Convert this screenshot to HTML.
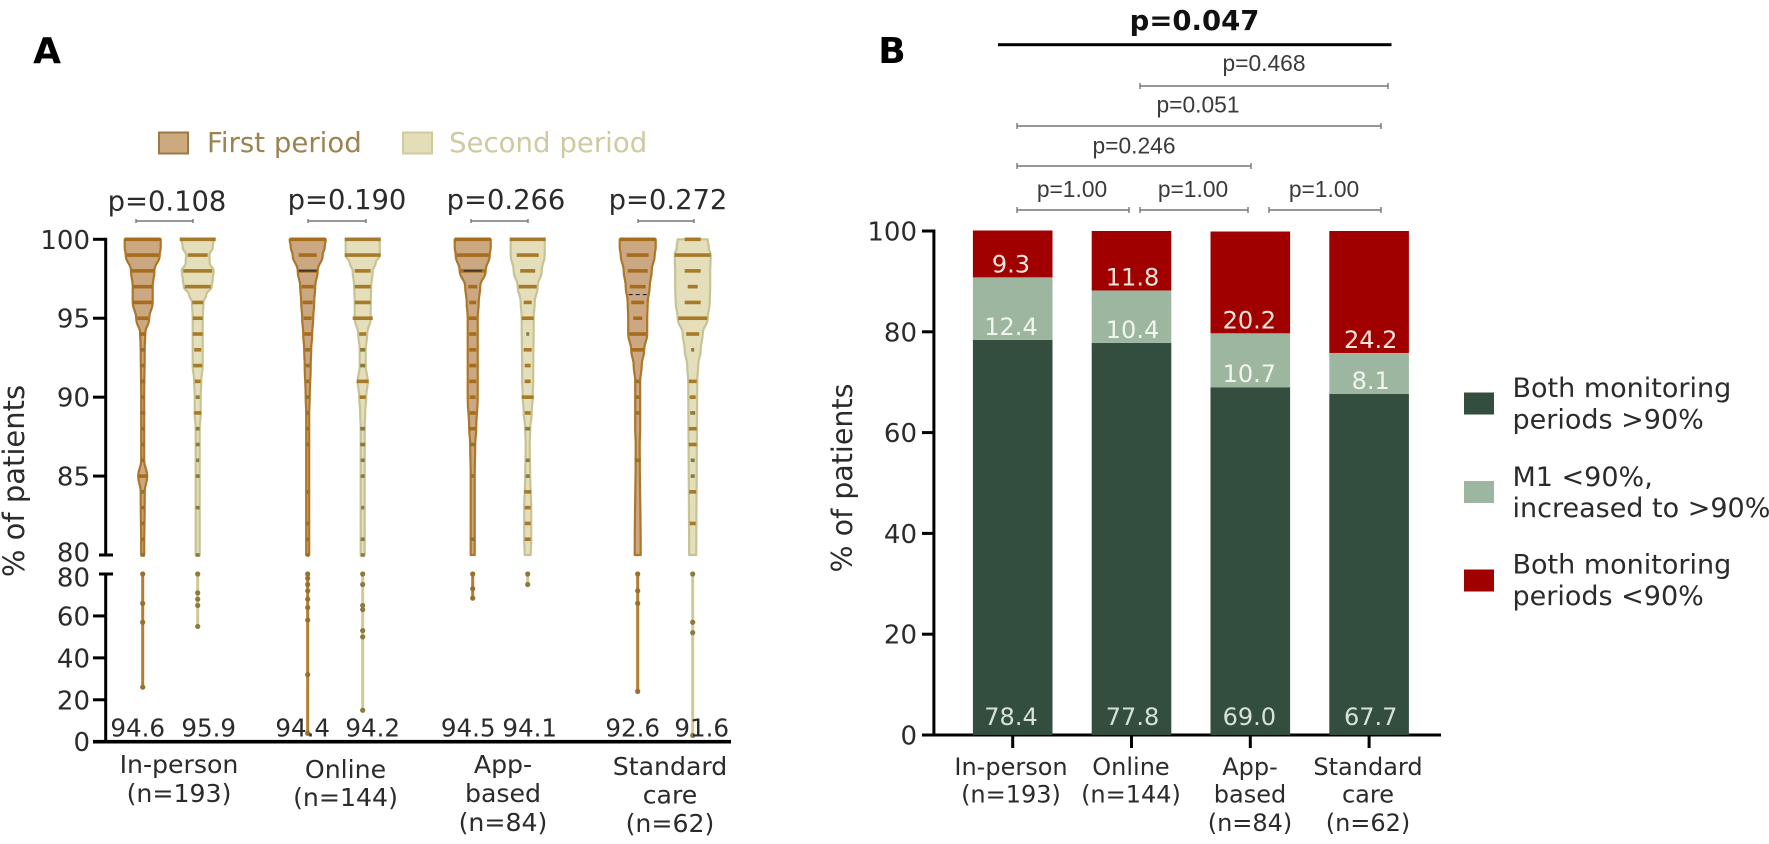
<!DOCTYPE html>
<html lang="en">
<head>
<meta charset="utf-8">
<title>Patient monitoring adherence</title>
<style>
html,body{margin:0;padding:0;background:#fff;width:1769px;height:844px;overflow:hidden}
svg{display:block;filter:blur(0.35px)}
text{font-family:"DejaVu Sans","Liberation Sans",sans-serif;fill:#2b2b2b}
.arial{font-family:"Liberation Sans",sans-serif;fill:#3a3a3a;font-size:22.8px;text-anchor:middle}
.cat-a{font-size:25.2px;text-anchor:middle}
.cat-b{font-size:24px;text-anchor:middle}
.pa{font-size:27.4px;text-anchor:middle}
.leg{font-size:27px}
.brk{stroke:#777;stroke-width:1.4;fill:none}
</style>
</head>
<body>
<svg id="figure" xmlns="http://www.w3.org/2000/svg" width="1769" height="844" viewBox="0 0 1769 844">
<rect width="1769" height="844" fill="#fff"/>

<text x="47" y="63" text-anchor="middle" style="font-size:36px;font-weight:bold;fill:#000">A</text>
<text x="892" y="63" text-anchor="middle" style="font-size:36px;font-weight:bold;fill:#000">B</text>

<g>
<rect x="159" y="132.5" width="29" height="21" fill="#cda97f" stroke="#9a7a45" stroke-width="2"/>
<text x="207" y="152" style="font-size:27.6px;fill:#9c8350">First period</text>
<rect x="403" y="132.5" width="29" height="21" fill="#e3deb8" stroke="#cfcaa0" stroke-width="2"/>
<text x="449" y="152" style="font-size:27.6px;fill:#cfcaa0">Second period</text>
</g>

<g>
<text class="pa" x="167" y="210.5">p=0.108</text>
<text class="pa" x="347" y="209">p=0.190</text>
<text class="pa" x="506" y="209">p=0.266</text>
<text class="pa" x="668" y="209">p=0.272</text>
<path class="brk" d="M136 221H193M136 219v4M193 219v4"/>
<path class="brk" d="M308 221H366M308 219v4M366 219v4"/>
<path class="brk" d="M471 221H528M471 219v4M528 219v4"/>
<path class="brk" d="M638 221H694M638 219v4M694 219v4"/>
</g>

<text transform="translate(24,481) rotate(-90)" text-anchor="middle" style="font-size:29px">% of patients</text>
<text transform="translate(852,478) rotate(-90)" text-anchor="middle" style="font-size:28.5px">% of patients</text>

<g id="violin-axes"></g>
<g id="violins"></g>
<g id="violin-means"></g>

<g>
<text class="cat-a" x="179" y="773">In-person</text>
<text class="cat-a" x="179" y="802">(n=193)</text>
<text class="cat-a" x="345.5" y="778">Online</text>
<text class="cat-a" x="345.5" y="806">(n=144)</text>
<text class="cat-a" x="503" y="773">App-</text>
<text class="cat-a" x="503" y="802">based</text>
<text class="cat-a" x="503" y="831">(n=84)</text>
<text class="cat-a" x="670" y="775">Standard</text>
<text class="cat-a" x="670" y="803.5">care</text>
<text class="cat-a" x="670" y="832">(n=62)</text>
</g>

<g id="stack-axes"></g>
<g id="stacks"></g>

<g>
<text class="cat-b" x="1011" y="775">In-person</text>
<text class="cat-b" x="1011" y="802.5">(n=193)</text>
<text class="cat-b" x="1131" y="775">Online</text>
<text class="cat-b" x="1131" y="802.5">(n=144)</text>
<text class="cat-b" x="1250" y="775">App-</text>
<text class="cat-b" x="1250" y="802.5">based</text>
<text class="cat-b" x="1250" y="831">(n=84)</text>
<text class="cat-b" x="1368" y="775">Standard</text>
<text class="cat-b" x="1368" y="802.5">care</text>
<text class="cat-b" x="1368" y="831">(n=62)</text>
</g>

<g>
<text x="1194.5" y="30" text-anchor="middle" style="font-size:27.5px;font-weight:bold;fill:#111">p=0.047</text>
<rect x="998" y="43.2" width="393.5" height="3" fill="#000"/>
<text class="arial" x="1264" y="71">p=0.468</text>
<path class="brk" d="M1140 86H1388M1140 83v6M1388 83v6"/>
<text class="arial" x="1198" y="112.5">p=0.051</text>
<path class="brk" d="M1017 126H1381M1017 123v6M1381 123v6"/>
<text class="arial" x="1134" y="153.5">p=0.246</text>
<path class="brk" d="M1017 166H1251M1017 163v6M1251 163v6"/>
<text class="arial" x="1072" y="197">p=1.00</text>
<path class="brk" d="M1017 210H1129M1017 207v6M1129 207v6"/>
<text class="arial" x="1193" y="197">p=1.00</text>
<path class="brk" d="M1140 210H1248M1140 207v6M1248 207v6"/>
<text class="arial" x="1324" y="197">p=1.00</text>
<path class="brk" d="M1269 210H1381M1269 207v6M1381 207v6"/>
</g>

<g>
<rect x="1464" y="392.5" width="30" height="22" fill="#334d3e"/>
<text class="leg" x="1512.5" y="397">Both monitoring</text>
<text class="leg" x="1512.5" y="428.5">periods &gt;90%</text>
<rect x="1464" y="481" width="30" height="22" fill="#9db69f"/>
<text class="leg" x="1512.5" y="486">M1 &lt;90%,</text>
<text class="leg" x="1512.5" y="517">increased to &gt;90%</text>
<rect x="1464" y="569.5" width="30" height="22" fill="#a10000"/>
<text class="leg" x="1512.5" y="573.5">Both monitoring</text>
<text class="leg" x="1512.5" y="605">periods &lt;90%</text>
</g>
</svg>

<script>
// ---------- Panel A data ----------
const violinNames = ['in-person-first','in-person-second','online-first','online-second','app-first','app-second','standard-first','standard-second'];
const meanLabels = ['94.6','95.9','94.4','94.2','94.5','94.1','92.6','91.6'];
const upperTicks = [100,95,90,85];
const lowerTicks = [60,40,20,0];

// violin outline: adherence value and density
const outlineValues = [
  [100,99.5,99,98,97,96,95,94,93,90,86,85,84,80],
  [100,99.5,99,98.5,98,97.5,97,96.5,96,95,94,93,92,91,90,89,88,85,84,80],
  [100,99.5,99,98,97,96,95,94,93,92,90,89,88,80],
  [100,99.5,99,98.5,98,97,96,95,94,93,92,91,90,89,88,80],
  [100,99.5,99,98,97,96,95,90,88,87,85,80],
  [100,99,98,97,96,95,91,90,89,88,87,85,83,81,80],
  [100,99.5,99,98,97,96,95,94,93,92,91,88,87,80],
  [100,99.5,99,98,97,96,95,94,93,92,91,80]
];
const outlineDensity = [
  [18,18,17,11.7,10,10,6.5,2.5,2,1.5,1.5,4.5,2,1.5],
  [16,15,11.7,12,16,15,14,8.7,5.7,5,5,5,5,3.5,3,3,2,2,2,2],
  [18,17,15,10,7.5,6.5,5.5,4.5,3.5,3,2,1.5,1.5,1.5],
  [17,17,17,13,10,8.5,8,8,4.5,3,3,5,3.5,2.5,2,2],
  [18,18,17,13,7.5,6,5,5,3.5,2.5,2,2],
  [17,17,14,10,7,6,5.5,5,4,2.5,2,2.5,3.5,3.5,3],
  [18,18,17,14,12,10,9.5,9.5,6.5,4,2.5,2.5,2,3],
  [15,16,18,17.5,17.5,17,15,10,8,5.5,4.5,3.5]
];

// stacked patient counts at integer values
const barValues = [
  [100,99,98,97,96,95,94,93,92,91,90,89,88,87,86,85,84,83,82,81,80],
  [100,99,98,97,96,95,94,93,92,91,90,89,88,87,86,85,83,80],
  [100,99,98,97,96,95,94,93,92,91,90,89,88,87,84,82,81,80],
  [100,99,98,97,96,95,94,93,92,91,90,88,87,86,85,83,81,80],
  [100,99,98,97,96,95,94,93,92,91,90,89,88,87,85,81],
  [100,99,98,97,96,95,94,93,92,91,90,89,88,86,85,84,83,82,81],
  [100,99,98,97,96,95,94,93,91,90,89,86],
  [100,99,98,97,96,95,94,93,91,90,89,88,87,86,85,84,82]
];
const barCounts = [
  [18,16,11.5,9.5,9.5,5.5,3.5,2.5,2,2.5,1.5,2.5,1.5,1.5,1.5,4.5,1.5,1.5,1.5,1.5,2],
  [18,10,14.5,13,5.5,5,5,3.5,4.5,3,2,3.5,2,2,1.5,2,2,2],
  [18,9,9,6,5,4,3.5,2.5,2,1.5,2,1.5,1.5,1.5,1.5,1.5,1.5,1.5],
  [18,18,8,8,8,10,3.5,2.5,2.5,6,3,2.5,2.5,2,2,1.5,2,2],
  [18,16,12,4.5,3.5,4,3.5,3.5,3.5,3.5,3,3,3,2.5,1.5,2.5],
  [18,11,7.5,9,4,6,1.5,4,3,3,6,3,2.5,2,2,3.5,3,3,3],
  [18,11,10,8,6.5,4.5,8.5,6,2,2,2,3],
  [8,18,8,5,8,14.5,6.5,1.5,4,3,2.5,4,4,2,2,3.5,3]
];

// lowest observation and scattered points below the axis break
const minimumValues = [26,55,4,15,68,75,24,3];
const lowPoints = [
  [80,66,57,26],
  [80,71,68,65,55],
  [80,78,75,72,68,64,58,32,4],
  [80,75,65,63,53,50,15],
  [80,73,68.5],
  [80,75],
  [80,72,66,24],
  [80,57,52,3]
];
const medianValues = [null,null,98,null,98,null,96.5,null];

// ---------- Panel B data ----------
const stackCategories = ['in-person','online','app-based','standard-care'];
const bothAbove = [78.4,77.8,69.0,67.7];
const increased = [12.4,10.4,10.7,8.1];
const bothBelow = [9.3,11.8,20.2,24.2];
const stackTicks = [100,80,60,40,20,0];

// ---------- Scales ----------
const NS = 'http://www.w3.org/2000/svg';
function make(tag, attrs, parent){
  const el = document.createElementNS(NS, tag);
  for (const k in attrs) el.setAttribute(k, attrs[k]);
  parent.appendChild(el);
  return el;
}
const yUpper = v => 239.3 + (100 - v) * 15.785;
const yLower = v => 741.7 - v * 2.096;
const yStack = v => 735 - v * 5.04;
const xViolin = i => 142.7 + Math.floor(i / 2) * 165 + (i % 2) * 55;
const xStack = i => 1012.7 + i * 118.8;
const meanNudge = [-5,11,-5,10,-4.5,2,-5,9];
const stackNudge = [-1.7,1,-1,1.6];

// ---------- Panel A axes ----------
const axA = document.getElementById('violin-axes');
const axisAUpper = make('path', {d:`M105.7 ${yUpper(100)-1.5}V${yUpper(80)}M99 ${yUpper(80)}H113`, stroke:'#000','stroke-width':3,fill:'none'}, axA);


const axisALower = make('path', {d:`M99 ${yLower(80)}H113M105.7 ${yLower(80)}V${yLower(0)}`, stroke:'#000','stroke-width':3,fill:'none'}, axA);


const axisAX = make('rect', {x:93,y:yLower(0)-1.8,width:638,height:3.6,fill:'#000'}, axA);



function tickA(v, y){
  const t = make('rect', {x:93,y:y-1.5,width:12,height:3,fill:'#000'}, axA);
  
  
}
function tickLabelA(v, y){
  const l = make('text', {x:90,y:y+9.5,'text-anchor':'end',style:'font-size:26px'}, axA);
  l.textContent = v;
  
  
}
upperTicks.forEach(v => { tickA(v, yUpper(v)); tickLabelA(v, yUpper(v)); });
lowerTicks.forEach(v => { if (v) tickA(v, yLower(v)); tickLabelA(v, yLower(v)); });
tickLabelA(80, yUpper(80) - 3);
tickLabelA(80, yLower(80) + 3);

// Smooth edge between successive outline points, vertical tangents at each point
function edge(points){
  let d = '';
  for (let k = 1; k < points.length; k++) {
    const p = points[k - 1], q = points[k];
    const my = (p[1] + q[1]) / 2;
    d += `C${p[0]} ${my} ${q[0]} ${my} ${q[0]} ${q[1]}`;
  }
  return d;
}

// ---------- Violins ----------
const vRoot = document.getElementById('violins');
violinNames.forEach((name, i) => {
  const first = i % 2 === 0;
  const cx = xViolin(i);
  const fill = first ? '#cba881' : '#e4dfba';
  const edgeCol = first ? '#ad7628' : '#c6c494';
  const barCol = first ? '#a66d1c' : '#a67a28';
  const dotCol = first ? '#96702c' : '#8b7a3c';
  const g = make('g', {}, vRoot);
  
  

  const vals = outlineValues[i], dens = outlineDensity[i];
  const right = vals.map((v, k) => [cx + dens[k], yUpper(v)]);
  const left = vals.map((v, k) => [cx - dens[k], yUpper(v)]).reverse();
  const outline = `M${right[0][0]} ${right[0][1]}` + edge(right) + `L${left[0][0]} ${left[0][1]}` + edge(left) + 'Z';
  const body = make('path', {d:outline,fill:fill,stroke:edgeCol,'stroke-width':2.2,'stroke-linejoin':'round'}, g);
  
  

  barValues[i].forEach((v, k) => {
    const w = barCounts[i][k];
    const bar = make('rect', {x:cx - w,y:yUpper(v) - 1.8,width:2 * w,height:3.6,fill:w < 3 ? dotCol : barCol}, g);
    
    
  });

  const stem = make('line', {x1:cx,x2:cx,y1:yLower(80),y2:yLower(minimumValues[i]),stroke:first ? '#b67c30' : '#cfca96','stroke-width':3}, g);
  
  

  lowPoints[i].forEach(v => {
    const dot = make('circle', {cx:cx,cy:yLower(v),r:2.6,fill:dotCol}, g);
    
    
  });

  if (medianValues[i] !== null) {
    const med = make('line', {x1:cx - 9,x2:cx + 9,y1:yUpper(medianValues[i]),y2:yUpper(medianValues[i]),stroke:'#222','stroke-width':1.2}, g);
    if (medianValues[i] !== 98) med.setAttribute('stroke-dasharray', '4 3');
    
    
  }
});

const mRoot = document.getElementById('violin-means');
meanLabels.forEach((t, i) => {
  const m = make('text', {x:xViolin(i) + meanNudge[i],y:736.5,'text-anchor':'middle',style:'font-size:24.6px'}, mRoot);
  m.textContent = t;
  
  
});

// ---------- Panel B ----------
const axB = document.getElementById('stack-axes');
const axisBY = make('rect', {x:932.4,y:yStack(100)-1.5,width:3,height:505.5,fill:'#000'}, axB);


const axisBX = make('rect', {x:922,y:yStack(0)-1.5,width:519,height:3,fill:'#000'}, axB);


stackTicks.forEach(v => {
  const t = make('rect', {x:922,y:yStack(v)-1.5,width:11,height:3,fill:'#000'}, axB);
  
  
  const l = make('text', {x:917,y:yStack(v)+9.5,'text-anchor':'end',style:'font-size:26px'}, axB);
  l.textContent = v;
  
  
});

const sRoot = document.getElementById('stacks');
stackCategories.forEach((name, i) => {
  const cx = xStack(i);
  const tick = make('rect', {x:cx - 1.5,y:735,width:3,height:13,fill:'#000'}, axB);
  
  

  const segs = [
    {v:bothAbove[i],c:'#334d3e',t:'#d6e2d6',key:'both-above'},
    {v:increased[i],c:'#9db69f',t:'#f1f5ee',key:'increased'},
    {v:bothBelow[i],c:'#a10000',t:'#f6e6de',key:'both-below'}
  ];
  let base = 0;
  segs.forEach((s, k) => {
    const top = base + s.v;
    const r = make('rect', {x:cx - 39.8,y:yStack(top),width:79.6,height:yStack(base) - yStack(top),fill:s.c}, sRoot);
    
    
    const lab = make('text', {x:cx + stackNudge[i],y:k === 0 ? 725 : yStack(base) - 5,'text-anchor':'middle',style:'font-size:24px;fill:' + s.t}, sRoot);
    lab.textContent = s.v.toFixed(1);
    
    
    base = top;
  });
});
</script>
</body>
</html>
